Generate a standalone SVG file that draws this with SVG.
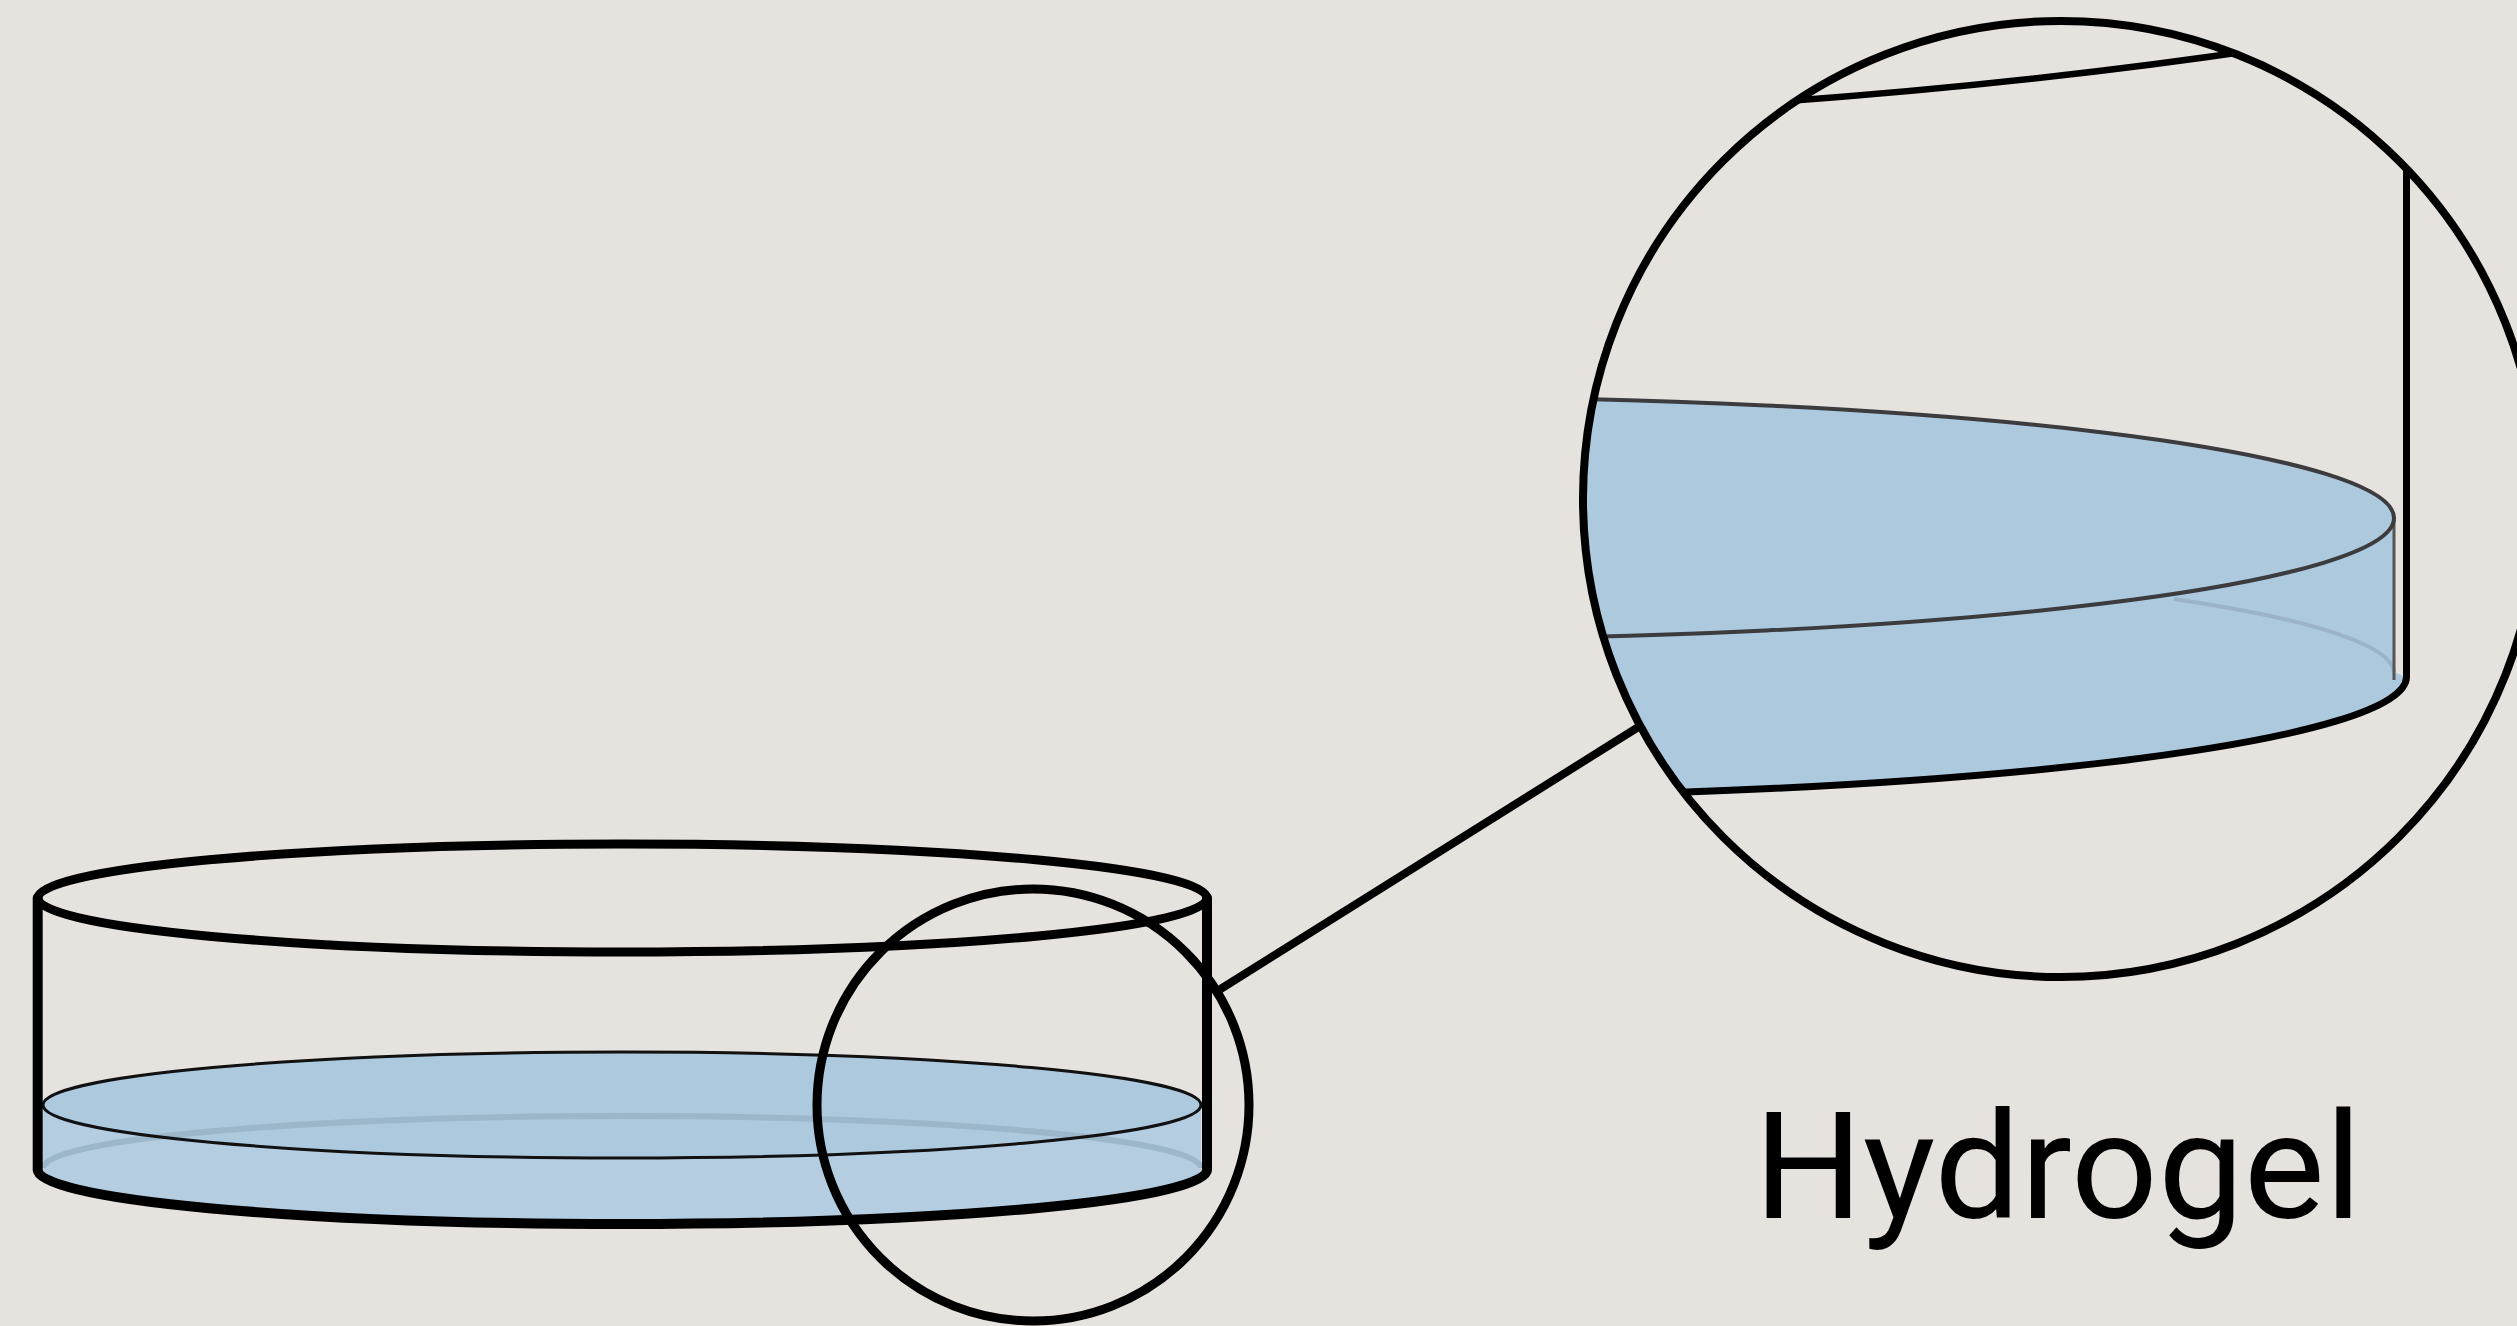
<svg xmlns="http://www.w3.org/2000/svg" width="2517" height="1326" viewBox="0 0 2517 1326">
  <style>
    .ink { fill: none; stroke: #000; stroke-linejoin: round; stroke-linecap: round; }
    .gel-top { fill: #adc9de; }
    .gel-body { fill: #b5cde0; }
    .edge { fill: none; stroke: #3c3b3e; stroke-width: 4; }
    .label { font-family: Roboto, "Liberation Sans", sans-serif; font-size: 149px; fill: #000; }
  </style>
  <defs>
    <clipPath id="lens">
      <circle cx="2061" cy="499" r="478"/>
    </clipPath>
  </defs>

  <rect width="2517" height="1326" fill="#e6e2dd"/>

  <!-- Petri dish with a hydrogel layer -->
  <g id="dish">
    <path class="gel-body" d="M43 1105 A579 53 0 0 1 1201 1105 L1201 1170 A579 54 0 0 1 43 1170 Z"/>
    <ellipse class="gel-top" cx="622" cy="1105" rx="579" ry="53"/>
    <path d="M43 1168 A579 52 0 0 1 1201 1168" fill="none" stroke="#9cb6ca" stroke-width="6"/>
    <ellipse cx="622" cy="1105" rx="579" ry="53" fill="none" stroke="#111" stroke-width="3"/>
    <ellipse class="ink" cx="622.4" cy="898" rx="584.6" ry="54" stroke-width="9"/>
    <path class="ink" stroke-width="10" d="M37.7 898 V1170 A584.6 54 0 0 0 1207 1170 V898"/>
  </g>

  <!-- Leader line from the detail ring to the magnified view -->
  <g id="connectors">
    <line class="ink" x1="1219" y1="990" x2="1640" y2="726" stroke-width="8"/>
  </g>

  <!-- Detail ring on the dish edge -->
  <g id="detail-ring">
    <circle class="ink" cx="1033" cy="1105" r="216" stroke-width="9"/>
  </g>

  <!-- Magnified view of the dish edge -->
  <g id="magnified">
    <g clip-path="url(#lens)">
      <path class="gel-top" d="M406 518 A994 121 0 0 1 2394 518 L2394 672 L2406.5 677 A1006.5 120 0 0 1 393.5 677 Z"/>
      <path d="M2174 599 A994 118 0 0 1 2394 672" fill="none" stroke="#9ab3c6" stroke-width="4"/>
      <line x1="2394" y1="518" x2="2394" y2="680" stroke="#555" stroke-width="3"/>
      <ellipse class="edge" cx="1400" cy="518" rx="994" ry="121"/>
      <path class="ink" stroke-width="7" d="M2406.5 100 V677 A1006.5 120 0 0 1 393.5 677"/>
      <path class="ink" stroke-width="6.5" d="M1760 103 Q2030 84 2270 48"/>
    </g>
    <circle class="ink" cx="2061" cy="499" r="478" stroke-width="8"/>
  </g>

  <g id="label">
    <text class="label" x="1754" y="1218" textLength="608" lengthAdjust="spacingAndGlyphs">Hydrogel</text>
  </g>
</svg>
